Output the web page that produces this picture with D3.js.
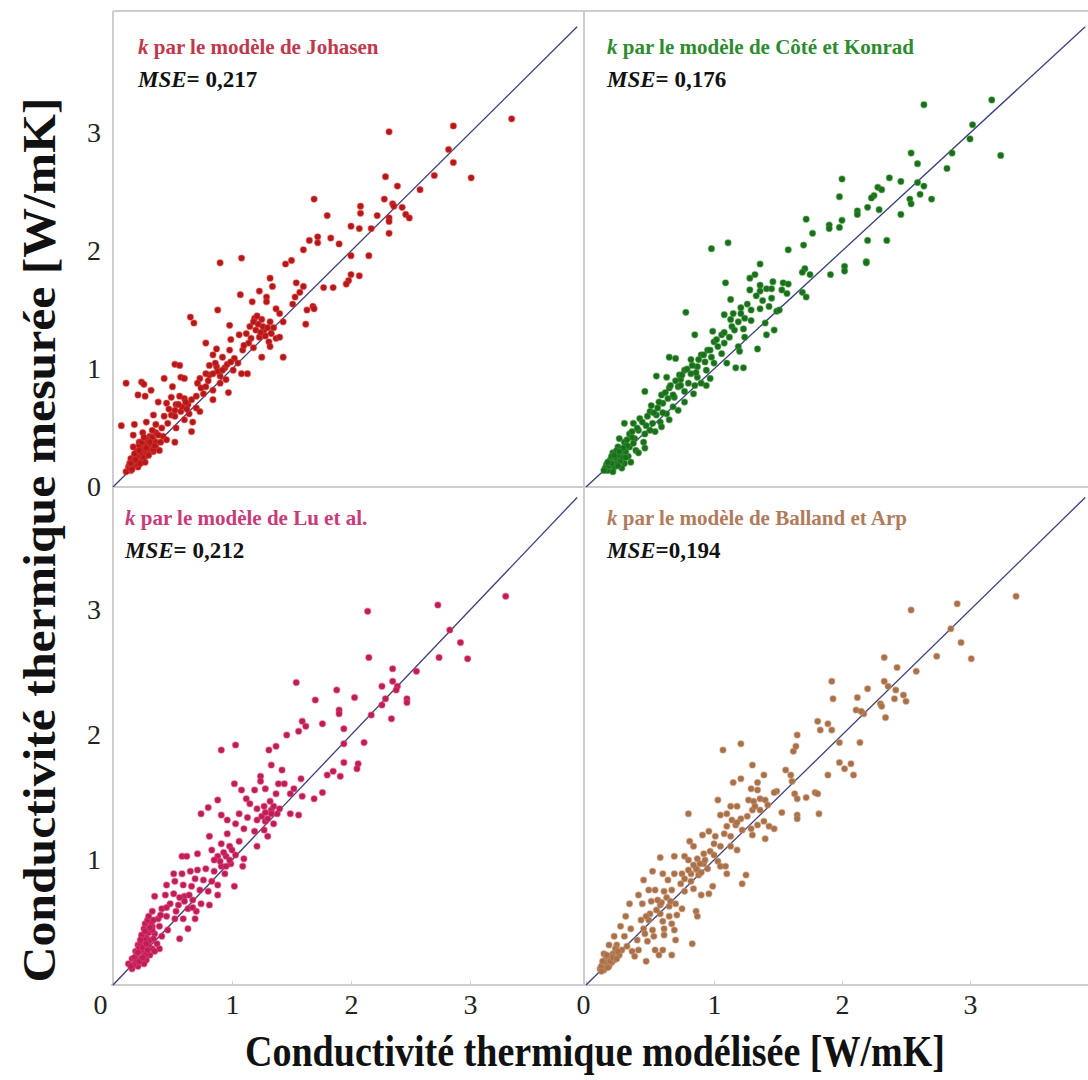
<!DOCTYPE html>
<html>
<head>
<script src="https://d3js.org/d3.v7.min.js"></script>
<style>
  body { margin: 0; background: #fff; }
  svg { display: block; font-family: "Liberation Serif", "Times New Roman", serif; }
</style>
</head>
<body>
<svg id="chart" width="1088" height="1080"></svg>
<script>
const johasen = [
  [3.35,3.12],[2.86,3.06],[2.32,3.01],[2.82,2.86],[2.86,2.75],[3.01,2.62],[2.29,2.63],[2.70,2.64],[2.39,2.55],[2.58,2.52],
  [1.69,2.44],[2.28,2.44],[2.35,2.40],[2.36,2.38],[2.08,2.38],[2.08,2.32],[2.43,2.37],[2.46,2.31],[2.49,2.28],[1.80,2.30],
  [2.22,2.30],[2.32,2.28],[2.32,2.25],[2.00,2.21],[2.07,2.19],[2.17,2.19],[2.32,2.15],[1.72,2.12],[1.72,2.07],[1.83,2.11],
  [1.90,2.06],[1.65,2.09],[1.60,2.01],[2.00,1.96],[2.15,1.96],[0.90,1.90],[1.08,1.94],[1.45,1.89],[1.50,1.92],[2.07,1.79],
  [2.00,1.80],[1.98,1.75],[1.96,1.72],[1.77,1.69],[1.85,1.69],[1.32,1.77],[1.54,1.73],[1.60,1.70],[1.57,1.65],[1.53,1.61],
  [1.34,1.70],[1.23,1.66],[1.07,1.63],[1.29,1.61],[1.17,1.57],[1.29,1.57],[0.88,1.50],[0.65,1.44],[0.68,1.39],[0.98,1.37],
  [1.19,1.43],[1.25,1.42],[1.32,1.40],[1.37,1.51],[1.40,1.47],[1.43,1.40],[1.51,1.55],[1.63,1.50],[1.68,1.53],[1.69,1.51],
  [1.62,1.38],[1.15,1.36],[1.20,1.33],[1.27,1.33],[1.12,1.30],[1.06,1.29],[1.16,1.26],[1.23,1.27],[1.31,1.23],[1.37,1.26],
  [1.40,1.27],[0.78,1.22],[0.99,1.25],[0.98,1.16],[0.87,1.17],[1.09,1.16],[1.18,1.18],[1.25,1.10],[1.32,1.19],[1.43,1.10],
  [0.84,1.12],[0.92,1.10],[1.02,1.09],[1.05,1.05],[0.52,1.04],[0.56,1.03],[0.81,1.03],[0.87,1.02],[0.94,1.01],[1.01,0.99],
  [1.08,0.96],[1.13,0.96],[0.43,0.92],[0.57,0.93],[0.60,0.92],[0.73,0.92],[0.81,0.95],[0.90,0.94],[0.95,0.91],[0.11,0.88],
  [0.24,0.89],[0.26,0.87],[0.32,0.82],[0.71,0.88],[0.74,0.84],[0.78,0.85],[0.84,0.82],[0.90,0.88],[0.97,0.80],[0.50,0.85],
  [0.21,0.78],[0.27,0.77],[0.49,0.76],[0.56,0.77],[0.60,0.75],[0.70,0.77],[0.76,0.79],[0.84,0.74],[0.38,0.72],[0.45,0.71],
  [0.53,0.70],[0.63,0.70],[0.70,0.67],[0.52,0.65],[0.57,0.64],[0.64,0.62],[0.73,0.64],[0.34,0.61],[0.43,0.60],[0.49,0.61],
  [0.60,0.57],[0.67,0.55],[0.07,0.52],[0.18,0.53],[0.28,0.55],[0.36,0.53],[0.41,0.50],[0.46,0.54],[0.53,0.50],[0.66,0.47],
  [0.17,0.44],[0.25,0.46],[0.31,0.43],[0.36,0.46],[0.42,0.43],[0.52,0.38],[0.45,0.40],[0.22,0.38],[0.28,0.37],[0.34,0.40],
  [0.17,0.34],[0.24,0.33],[0.31,0.33],[0.36,0.34],[0.20,0.29],[0.27,0.30],[0.15,0.24],[0.22,0.26],[0.18,0.20],[0.13,0.17],
  [0.15,0.14],[0.11,0.13],[0.25,0.23],[0.29,0.27],[0.21,0.17],[0.14,0.20],[0.24,0.29],[0.34,0.30],[0.39,0.31],
  [0.14,0.16],[0.16,0.18],[0.18,0.19],[0.20,0.22],[0.22,0.24],[0.19,0.25],[0.23,0.27],[0.25,0.28],[0.17,0.22],[0.21,0.20],
  [0.24,0.22],[0.26,0.25],[0.28,0.30],[0.30,0.32],[0.27,0.35],[0.32,0.36],[0.29,0.40],[0.33,0.42],[0.15,0.20],[0.20,0.30],
  [0.26,0.32],[0.22,0.35],[0.18,0.28],[0.24,0.38],[0.30,0.27],[0.34,0.32],[0.36,0.38],
  [1.22,1.38],[1.26,1.36],[1.30,1.35],[1.24,1.31],[1.28,1.28],[1.33,1.30],[1.18,1.40],[1.21,1.45],[1.35,1.35],[1.14,1.22],
  [1.10,1.20],[0.88,0.98],[0.92,0.99],[0.96,1.04],[0.84,0.96],[0.99,1.06],[0.86,1.05],[0.80,0.90],[0.78,0.96],[0.58,0.68],
  [0.61,0.72],[0.55,0.70],[0.62,0.66],[0.66,0.74],[0.52,0.60],[0.47,0.66],[0.28,0.33],[0.31,0.38],[0.26,0.42],[0.33,0.48],
  [0.38,0.44],[0.19,0.23],[0.23,0.20],[0.27,0.21],[0.16,0.15],[0.35,0.35],[0.40,0.38],[0.22,0.31]
];

const coteKonrad = [
  [2.64,3.24],[3.17,3.28],[3.02,3.07],[3.00,2.95],[3.24,2.81],[2.54,2.83],[2.59,2.74],[2.86,2.83],[2.82,2.70],[2.00,2.61],
  [2.37,2.62],[2.46,2.59],[2.59,2.58],[2.64,2.55],[2.61,2.48],[2.70,2.44],[2.53,2.44],[2.54,2.40],[1.98,2.46],[2.28,2.54],
  [2.31,2.52],[2.25,2.47],[2.23,2.45],[2.20,2.37],[2.12,2.34],[2.12,2.31],[2.29,2.35],[2.46,2.31],[1.72,2.27],[1.90,2.22],
  [1.90,2.19],[2.00,2.26],[1.98,2.20],[1.77,2.15],[2.20,2.09],[2.35,2.09],[0.98,2.02],[1.11,2.07],[1.58,2.01],[1.70,2.05],
  [1.36,1.89],[1.71,1.85],[1.69,1.82],[1.75,1.80],[1.91,1.80],[2.02,1.87],[2.02,1.83],[2.19,1.91],[2.19,1.90],[1.32,1.80],
  [1.28,1.77],[1.09,1.73],[1.46,1.74],[1.54,1.73],[1.58,1.72],[1.36,1.71],[1.41,1.68],[1.28,1.67],[1.36,1.66],[1.53,1.67],
  [1.57,1.64],[1.69,1.65],[1.72,1.61],[1.13,1.59],[1.38,1.58],[1.45,1.60],[1.43,1.53],[1.36,1.51],[1.21,1.52],[1.29,1.50],
  [1.49,1.49],[1.51,1.50],[1.08,1.46],[1.15,1.47],[1.21,1.47],[0.78,1.48],[1.24,1.43],[1.29,1.41],[1.19,1.40],[1.40,1.39],
  [1.14,1.36],[1.16,1.33],[1.23,1.34],[1.47,1.33],[0.99,1.32],[0.85,1.29],[1.06,1.29],[1.12,1.27],[1.24,1.27],[1.41,1.29],
  [1.00,1.23],[1.03,1.19],[1.08,1.22],[1.19,1.19],[1.34,1.17],[0.95,1.16],[0.90,1.12],[0.98,1.10],[1.06,1.13],[1.20,1.15],
  [0.65,1.10],[0.70,1.09],[0.82,1.08],[0.93,1.06],[1.00,1.05],[1.10,1.05],[1.17,1.01],[1.23,1.01],[0.87,1.02],[0.94,0.99],
  [0.77,0.99],[0.73,0.95],[0.82,0.96],[0.55,0.94],[0.63,0.93],[0.87,0.93],[0.97,0.92],[0.74,0.91],[0.80,0.88],[0.85,0.86],
  [0.90,0.88],[0.94,0.86],[0.72,0.85],[0.65,0.84],[0.77,0.81],[0.84,0.79],[0.69,0.76],[0.64,0.75],[0.59,0.78],[0.46,0.81],
  [0.77,0.72],[0.60,0.71],[0.68,0.68],[0.56,0.67],[0.51,0.69],[0.72,0.65],[0.63,0.62],[0.55,0.61],[0.50,0.64],[0.65,0.57],
  [0.58,0.55],[0.52,0.54],[0.42,0.58],[0.47,0.52],[0.59,0.51],[0.30,0.54],[0.37,0.54],[0.41,0.48],[0.54,0.47],[0.46,0.45],
  [0.34,0.45],[0.26,0.41],[0.38,0.41],[0.30,0.38],[0.45,0.38],[0.25,0.34],[0.34,0.34],[0.39,0.31],[0.28,0.29],[0.21,0.29],
  [0.33,0.26],[0.19,0.23],[0.25,0.23],[0.30,0.20],[0.16,0.19],[0.22,0.17],[0.28,0.16],[0.17,0.14],[0.21,0.13],[0.15,0.16],
  [0.24,0.20],[0.35,0.21],[0.41,0.29],[0.46,0.33],[0.20,0.26],[0.37,0.37],
  [0.18,0.18],[0.23,0.25],[0.27,0.22],[0.31,0.30],[0.26,0.27],[0.19,0.21],[0.29,0.25],[0.24,0.31],[0.32,0.35],[0.36,0.42],
  [0.40,0.50],[0.44,0.55],[0.48,0.60],[0.53,0.63],[0.57,0.72],[0.62,0.80],[0.66,0.86],[0.70,0.90],[0.75,0.95],[0.79,1.00],
  [0.83,1.03],[0.88,1.08],[0.92,1.12],[0.97,1.16],[1.02,1.25],[1.08,1.31],[1.13,1.42],[1.26,1.55],[1.33,1.62],[1.45,1.68],
  [0.29,0.33],[0.32,0.40],[0.36,0.47],[0.22,0.27],[0.26,0.30],[0.20,0.20],[0.17,0.21],[0.14,0.14],[0.25,0.18],[0.31,0.25],
  [0.68,0.78],[0.74,0.86],[0.86,0.97],[0.60,0.63],[0.50,0.48]
];

const luEtAl = [
  [3.30,3.11],[2.73,3.04],[2.14,2.99],[2.83,2.84],[2.92,2.74],[2.74,2.62],[2.98,2.61],[2.15,2.62],[2.35,2.53],[2.55,2.51],
  [1.54,2.42],[1.88,2.36],[2.03,2.30],[2.26,2.39],[2.35,2.43],[2.39,2.39],[2.38,2.36],[2.29,2.29],[2.26,2.24],[2.47,2.29],
  [2.47,2.26],[1.70,2.28],[1.90,2.20],[1.90,2.17],[2.17,2.16],[2.34,2.13],[1.59,2.11],[1.56,2.03],[1.62,2.07],[1.76,2.09],
  [1.46,2.00],[1.94,2.05],[1.94,1.93],[2.11,1.94],[0.91,1.88],[1.03,1.92],[1.31,1.88],[1.37,1.91],[1.33,1.76],[1.42,1.72],
  [1.94,1.78],[2.06,1.77],[2.05,1.73],[1.80,1.68],[1.85,1.71],[1.91,1.67],[1.24,1.67],[1.24,1.63],[1.02,1.61],[1.08,1.56],
  [1.19,1.56],[1.28,1.57],[1.39,1.61],[1.44,1.61],[1.52,1.57],[1.58,1.65],[1.59,1.51],[1.49,1.53],[1.69,1.49],[1.76,1.54],
  [0.88,1.48],[0.80,1.42],[0.74,1.37],[0.91,1.36],[1.12,1.49],[1.15,1.45],[1.21,1.41],[1.27,1.43],[1.32,1.47],[1.37,1.53],
  [1.33,1.40],[1.38,1.37],[1.49,1.37],[1.56,1.36],[1.06,1.37],[1.13,1.34],[1.21,1.32],[1.28,1.31],[1.35,1.29],[1.03,1.29],
  [0.96,1.32],[1.10,1.25],[1.19,1.23],[1.27,1.24],[1.30,1.19],[1.21,1.11],[0.96,1.21],[0.81,1.19],[1.06,1.15],[0.91,1.13],
  [0.98,1.11],[0.83,1.08],[0.71,1.05],[0.58,1.03],[0.62,1.03],[0.88,1.03],[0.95,1.03],[1.03,1.04],[1.10,1.01],[0.99,0.97],
  [0.91,0.95],[1.09,0.95],[0.51,0.89],[0.58,0.89],[0.65,0.91],[0.71,0.92],[0.78,0.93],[0.85,0.91],[0.94,0.89],[0.69,0.85],
  [0.76,0.84],[0.83,0.83],[0.88,0.80],[1.02,0.79],[0.45,0.80],[0.52,0.83],[0.59,0.80],[0.66,0.79],[0.73,0.76],[0.80,0.75],
  [0.88,0.72],[0.35,0.71],[0.44,0.72],[0.51,0.73],[0.60,0.71],[0.67,0.68],[0.74,0.65],[0.81,0.64],[0.48,0.65],[0.55,0.64],
  [0.63,0.61],[0.70,0.59],[0.41,0.61],[0.33,0.59],[0.38,0.53],[0.45,0.55],[0.52,0.53],[0.59,0.53],[0.69,0.53],[0.63,0.45],
  [0.56,0.37],[0.27,0.49],[0.33,0.47],[0.39,0.47],[0.46,0.44],[0.28,0.41],[0.35,0.41],[0.41,0.39],[0.24,0.37],[0.31,0.36],
  [0.37,0.33],[0.21,0.32],[0.27,0.31],[0.33,0.29],[0.39,0.29],[0.19,0.27],[0.26,0.25],[0.31,0.24],[0.35,0.27],[0.16,0.21],
  [0.23,0.21],[0.28,0.20],[0.13,0.17],[0.20,0.17],[0.26,0.17],[0.16,0.13],[0.21,0.15],[0.30,0.32],[0.24,0.28],[0.34,0.37],
  [0.27,0.24],[0.19,0.20],
  [0.22,0.30],[0.25,0.34],[0.28,0.38],[0.30,0.42],[0.26,0.45],[0.32,0.50],[0.29,0.52],[0.24,0.40],[0.20,0.25],[0.18,0.22],
  [0.30,0.35],[0.33,0.44],[0.23,0.33],[0.27,0.36],
  [0.21,0.26],[0.25,0.30],[0.28,0.33],[0.23,0.36],[0.27,0.43],[0.31,0.46],[0.34,0.52],[0.30,0.55],[0.19,0.18],[0.17,0.16],
  [0.22,0.19],[0.15,0.15],[0.25,0.22],[0.29,0.28],[1.25,1.35],[1.30,1.33],[1.33,1.37],[1.28,1.38],[1.35,1.43],[1.40,1.41],
  [0.90,0.99],[0.95,0.95],[0.98,1.00],[0.93,1.06],[1.00,1.08],[0.85,1.00],[0.60,0.67],[0.64,0.72],[0.56,0.70],[0.67,0.62],
  [0.53,0.59],[0.45,0.62],[0.40,0.56]
];

const ballandArp = [
  [3.36,3.11],[2.90,3.05],[2.54,3.00],[2.85,2.85],[2.93,2.74],[3.01,2.61],[2.74,2.63],[2.33,2.62],[2.43,2.54],[2.58,2.51],
  [1.92,2.43],[1.93,2.29],[2.33,2.43],[2.36,2.39],[2.20,2.37],[2.12,2.30],[2.42,2.36],[2.48,2.32],[2.50,2.27],[2.41,2.29],
  [2.30,2.25],[2.31,2.23],[2.11,2.20],[2.17,2.17],[2.15,2.19],[2.34,2.14],[1.81,2.11],[1.83,2.04],[1.89,2.09],[1.92,2.04],
  [1.65,2.00],[1.62,1.87],[1.64,1.91],[1.98,1.94],[2.14,1.94],[1.07,1.88],[1.21,1.93],[1.98,1.78],[2.07,1.77],[2.02,1.73],
  [2.09,1.68],[1.89,1.68],[1.30,1.76],[1.56,1.72],[1.60,1.68],[1.61,1.63],[1.39,1.68],[1.15,1.62],[1.21,1.65],[1.34,1.62],
  [1.29,1.57],[1.34,1.56],[1.49,1.55],[1.47,1.54],[1.63,1.53],[1.65,1.49],[1.72,1.50],[1.79,1.54],[1.81,1.53],[1.03,1.48],
  [0.80,1.37],[1.13,1.43],[1.18,1.43],[1.27,1.48],[1.31,1.47],[1.36,1.49],[1.40,1.48],[1.30,1.40],[1.36,1.40],[1.53,1.38],
  [1.65,1.36],[1.65,1.33],[1.82,1.37],[1.05,1.36],[1.10,1.37],[1.14,1.32],[1.21,1.33],[1.17,1.28],[1.22,1.24],[1.29,1.25],
  [1.34,1.28],[1.39,1.31],[1.43,1.27],[1.47,1.25],[1.40,1.17],[1.30,1.20],[0.91,1.20],[0.96,1.23],[1.01,1.19],[1.08,1.21],
  [1.13,1.19],[1.00,1.13],[1.05,1.11],[1.13,1.11],[1.18,1.08],[0.81,1.15],[0.84,1.11],[0.92,1.05],[0.97,1.07],[0.58,1.02],
  [0.69,1.03],[0.77,1.03],[0.80,1.00],[0.87,1.01],[0.92,0.97],[1.03,0.99],[1.05,0.95],[1.09,0.95],[1.10,0.89],[1.25,0.88],
  [1.22,0.81],[0.99,0.79],[0.96,0.73],[0.87,0.92],[0.82,0.89],[0.75,0.89],[0.69,0.89],[0.88,0.88],[0.77,0.85],[0.52,0.91],
  [0.45,0.84],[0.60,0.89],[0.64,0.84],[0.74,0.81],[0.82,0.83],[0.49,0.76],[0.54,0.76],[0.61,0.75],[0.67,0.76],[0.77,0.75],
  [0.84,0.77],[0.90,0.72],[0.41,0.72],[0.34,0.65],[0.44,0.65],[0.51,0.67],[0.58,0.64],[0.65,0.63],[0.70,0.65],[0.75,0.61],
  [0.86,0.59],[0.87,0.55],[0.50,0.57],[0.58,0.57],[0.65,0.55],[0.71,0.56],[0.31,0.55],[0.43,0.52],[0.49,0.52],[0.60,0.51],
  [0.67,0.49],[0.27,0.47],[0.35,0.45],[0.45,0.45],[0.52,0.44],[0.61,0.45],[0.69,0.44],[0.22,0.39],[0.30,0.39],[0.46,0.41],
  [0.53,0.39],[0.61,0.40],[0.70,0.36],[0.83,0.33],[0.48,0.35],[0.40,0.36],[0.18,0.32],[0.24,0.32],[0.32,0.31],[0.36,0.27],
  [0.41,0.28],[0.54,0.28],[0.60,0.28],[0.67,0.24],[0.38,0.23],[0.47,0.19],[0.57,0.24],[0.14,0.25],[0.21,0.25],[0.26,0.24],
  [0.15,0.20],[0.22,0.20],[0.13,0.16],[0.18,0.15],[0.14,0.12],[0.11,0.13],[0.19,0.23],[0.23,0.29],[0.28,0.28],[0.17,0.17],
  [0.16,0.22],[0.20,0.18],[0.25,0.27],[0.12,0.15],
  [0.86,0.93],[0.89,0.97],[0.93,1.00],[0.90,0.90],[0.95,0.93],[0.84,0.96],[1.00,1.04],[0.80,0.92],[0.55,0.60],[0.59,0.66],
  [0.63,0.70],[0.56,0.68],[0.66,0.67],[0.47,0.55],[0.15,0.18],[0.17,0.14],[0.19,0.19],[0.21,0.22],[0.13,0.19],[0.16,0.24],
  [0.24,0.21],[0.12,0.11],[1.26,1.35],[1.32,1.43],[1.42,1.44],[1.10,1.27],[1.18,1.30]
];

const seriesData = [johasen, coteKonrad, luEtAl, ballandArp];
const panelTitles = ["par le modèle de Johasen", "par le modèle de Côté et Konrad",
                     "par le modèle de Lu et al.", "par le modèle de Balland et Arp"];
const mseValues = ["= 0,217", "= 0,176", "= 0,212", "=0,194"];
const titleColors = ["#c0394b", "#2e8b30", "#c83c78", "#b07c5c"];
const pointColors = ["#b01a1d", "#1b6f1b", "#bb1f57", "#a8714a"];
const haloColors = ["#f03a30", "#3f9a3f", "#ee3d78", "#c89470"];
const tickVals = [0, 1, 2, 3];
const lineMax = 3.9;

const svg = d3.select("#chart");

// column / row geometry (origin and pixels per unit)
const cols = [{ x0: 113, k: 119, zeroShift: -13 }, { x0: 586, k: 128, zeroShift: -3 }];
const rows = [{ y0: 487, k: 118, top: 11 }, { y0: 985, k: 125, top: 487 }];
const dividerX = 584;
const titlePos = [[138, 54], [607, 54], [125, 525], [607, 525]];

// panel frames
const frame = svg.append("g").attr("fill", "none").attr("stroke", "#cdcdcd").attr("stroke-width", 2);
frame.append("line").attr("x1", 113).attr("x2", 1088).attr("y1", 11).attr("y2", 11);
frame.append("line").attr("x1", 113).attr("x2", 1088).attr("y1", 487).attr("y2", 487);
frame.append("line").attr("x1", dividerX).attr("x2", dividerX).attr("y1", 11).attr("y2", 985);

seriesData.forEach((data, i) => {
  const c = cols[i % 2], r = rows[Math.floor(i / 2)];
  const x = d3.scaleLinear().domain([0, lineMax]).range([c.x0, c.x0 + lineMax * c.k]);
  const y = d3.scaleLinear().domain([0, lineMax]).range([r.y0, r.y0 - lineMax * r.k]);
  const g = svg.append("g");

  // left axis only for the left column
  if (i % 2 === 0) {
    const ya = g.append("g")
      .attr("transform", `translate(${c.x0},0)`)
      .call(d3.axisLeft(y).tickValues(i === 0 ? tickVals : tickVals.slice(1))
        .tickFormat(d3.format("d")).tickSize(0).tickPadding(12));
    ya.select(".domain").attr("stroke", "#cdcdcd").attr("stroke-width", 2)
      .attr("d", `M0,${r.y0}V${r.top}`);
    ya.selectAll("text").attr("font-size", 28).attr("fill", "#222")
      .attr("font-family", "Liberation Serif, serif");
  }

  // bottom axis only for the bottom row
  if (i >= 2) {
    const xa = g.append("g")
      .attr("transform", `translate(0,${r.y0})`)
      .call(d3.axisBottom(x).tickValues(tickVals).tickFormat(d3.format("d"))
        .tickSizeInner(-4).tickSizeOuter(0).tickPadding(9));
    xa.select(".domain").attr("stroke", "#cdcdcd").attr("stroke-width", 2)
      .attr("d", `M${c.x0 - 2},0H${i === 2 ? dividerX : 1088}`);
    xa.selectAll(".tick line").attr("stroke", "#cdcdcd");
    xa.selectAll("text").attr("font-size", 28).attr("fill", "#222")
      .attr("font-family", "Liberation Serif, serif")
      .attr("dx", d => d === 0 ? c.zeroShift : 0);
  }

  // 1:1 line
  g.append("line")
    .attr("x1", x(0)).attr("y1", y(0))
    .attr("x2", x(lineMax)).attr("y2", y(lineMax))
    .attr("stroke", "#3b3f7c").attr("stroke-width", 1.3);

  g.append("g").selectAll("circle")
    .data(data)
    .enter().append("circle")
    .attr("cx", d => x(d[0]))
    .attr("cy", d => y(d[1]))
    .attr("r", 3.1)
    .attr("fill", pointColors[i])
    .attr("stroke", haloColors[i])
    .attr("stroke-opacity", 0.45)
    .attr("stroke-width", 1.2);

  const [tx, ty] = titlePos[i];
  const t = g.append("text").attr("x", tx).attr("y", ty)
    .attr("font-size", 21).attr("font-weight", "bold").attr("fill", titleColors[i]);
  t.append("tspan").attr("font-style", "italic").text("k");
  t.append("tspan").text(" " + panelTitles[i]);

  const m = g.append("text").attr("x", tx).attr("y", ty + 33)
    .attr("font-size", 23).attr("font-weight", "bold").attr("fill", "#111");
  m.append("tspan").attr("font-style", "italic").text("MSE");
  m.append("tspan").text(mseValues[i]);
});

// axis titles
svg.append("text")
  .attr("transform", "translate(55,540) rotate(-90)")
  .attr("text-anchor", "middle")
  .attr("font-size", 46).attr("font-weight", "bold").attr("fill", "#111")
  .attr("textLength", 885).attr("lengthAdjust", "spacingAndGlyphs")
  .text("Conductivité thermique mesurée [W/mK]");

svg.append("text")
  .attr("x", 595).attr("y", 1066)
  .attr("text-anchor", "middle")
  .attr("font-size", 44).attr("font-weight", "bold").attr("fill", "#111")
  .attr("textLength", 700).attr("lengthAdjust", "spacingAndGlyphs")
  .text("Conductivité thermique modélisée [W/mK]");
</script>
</body>
</html>
